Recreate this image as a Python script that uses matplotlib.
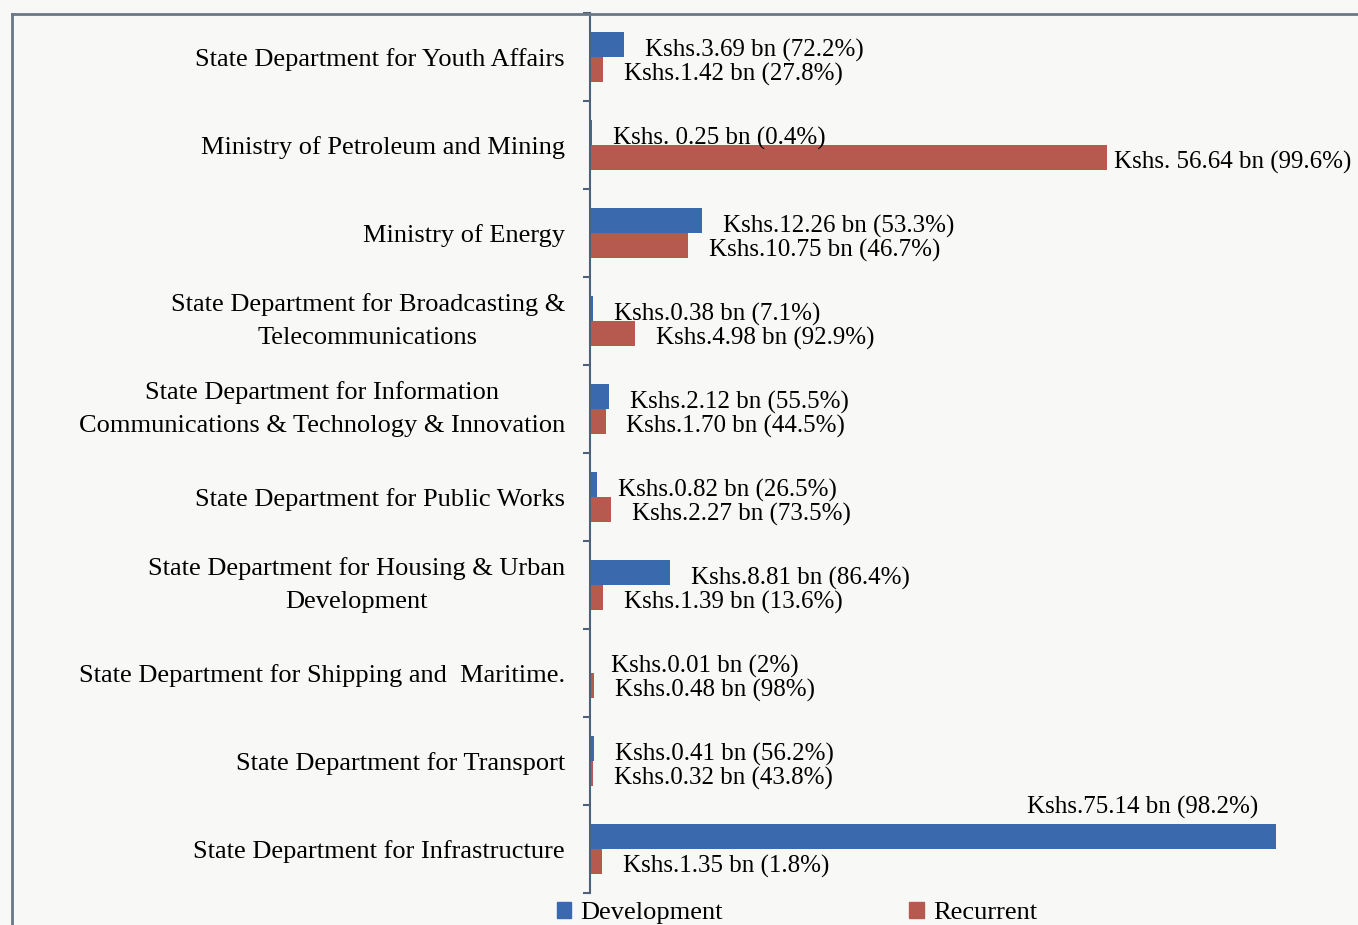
import numpy as np
import matplotlib.pyplot as plt
from matplotlib.patches import Patch
from matplotlib.lines import Line2D

# data (Kshs bn), top to bottom
categories = [
    "State Department for Youth Affairs",
    "Ministry of Petroleum and Mining",
    "Ministry of Energy",
    "State Department for Broadcasting &\nTelecommunications",
    "State Department for Information\nCommunications & Technology & Innovation",
    "State Department for Public Works",
    "State Department for Housing & Urban\nDevelopment",
    "State Department for Shipping and  Maritime.",
    "State Department for Transport",
    "State Department for Infrastructure",
]
development = [3.69, 0.25, 12.26, 0.38, 2.12, 0.82, 8.81, 0.01, 0.41, 75.14]
recurrent = [1.42, 56.64, 10.75, 4.98, 1.70, 2.27, 1.39, 0.48, 0.32, 1.35]
dev_labels = [
    "Kshs.3.69 bn (72.2%)", "Kshs. 0.25 bn (0.4%)", "Kshs.12.26 bn (53.3%)",
    "Kshs.0.38 bn (7.1%)", "Kshs.2.12 bn (55.5%)", "Kshs.0.82 bn (26.5%)",
    "Kshs.8.81 bn (86.4%)", "Kshs.0.01 bn (2%)", "Kshs.0.41 bn (56.2%)",
    "Kshs.75.14 bn (98.2%)",
]
rec_labels = [
    "Kshs.1.42 bn (27.8%)", "Kshs. 56.64 bn (99.6%)", "Kshs.10.75 bn (46.7%)",
    "Kshs.4.98 bn (92.9%)", "Kshs.1.70 bn (44.5%)", "Kshs.2.27 bn (73.5%)",
    "Kshs.1.39 bn (13.6%)", "Kshs.0.48 bn (98%)", "Kshs.0.32 bn (43.8%)",
    "Kshs.1.35 bn (1.8%)",
]

blue = '#3b69ad'
red = '#b65a4f'
bg = '#f8f8f6'
fs = 18      # data labels
fs_cat = 19  # category labels / legend

plt.rcParams['font.family'] = 'Liberation Serif'

fig = plt.figure(figsize=(13.58, 9.25), dpi=100, facecolor=bg)
W, H = 1358, 925
ax = fig.add_axes([590 / W, 1 - 893 / H, 768 / W, 880 / H])
ax.set_facecolor('none')

y = np.arange(len(categories))
h = 0.28
ax.barh(y - h / 2, development, height=h, color=blue, label='Development')
ax.barh(y + h / 2, recurrent, height=h, color=red, label='Recurrent')

ax.set_xlim(0, 768 / 9.13)
ax.set_ylim(len(categories) - 0.5, -0.5)

# data labels
for i in range(len(categories)):
    d = development[i]
    if d > 70:
        ax.annotate(dev_labels[i], (d, y[i] - h / 2), xytext=(-13, 21),
                    textcoords='offset points', ha='right', va='center', fontsize=fs)
    else:
        ax.annotate(dev_labels[i], (d, y[i] - h / 2), xytext=(15, -4),
                    textcoords='offset points', ha='left', va='center', fontsize=fs)
    r = recurrent[i]
    off = 5 if r > 50 else 15
    ax.annotate(rec_labels[i], (r, y[i] + h / 2), xytext=(off, -4),
                textcoords='offset points', ha='left', va='center', fontsize=fs)

# axis styling
for s in ['top', 'right', 'bottom']:
    ax.spines[s].set_visible(False)
ax.spines['left'].set_color('#4f6079')
ax.spines['left'].set_linewidth(1.5)
ax.set_xticks([])
ax.set_yticks(np.arange(len(categories) + 1) - 0.5)
ax.set_yticklabels([])
ax.tick_params(axis='y', which='major', length=5, width=1.5, color='#4f6079', direction='out')

# category labels, right-aligned left of the axis, lines centred
for i, cat in enumerate(categories):
    dy = 0 if '\n' in cat else -2
    ax.annotate(cat, (0, y[i]), xycoords=ax.get_yaxis_transform(),
                xytext=(-18, dy), textcoords='offset points',
                ha='right', va='center', multialignment='center',
                linespacing=1.7, fontsize=fs_cat)

# frame of the original figure box
frame_c = '#6b7888'
fig.add_artist(Line2D([12 / W, 12 / W], [0, 1 - 14 / H], color=frame_c, lw=2))
fig.add_artist(Line2D([12 / W, 1], [1 - 14 / H, 1 - 14 / H], color=frame_c, lw=2))

handles = [Patch(color=blue), Patch(color=red)]
fig.legend(handles, ['Development', 'Recurrent'], loc='center',
           bbox_to_anchor=(797 / W, 1 - 913 / H), ncol=2, frameon=False,
           fontsize=fs_cat, handlelength=0.55, handleheight=0.55, handletextpad=0.35,
           columnspacing=7.05)

fig.savefig('out.png', dpi=100, facecolor=bg)
